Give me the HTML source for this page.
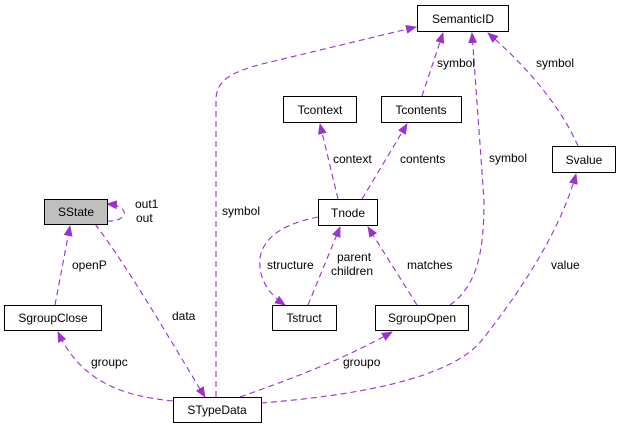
<!DOCTYPE html>
<html><head><meta charset="utf-8"><style>
html,body{margin:0;padding:0;background:#fff;}
svg{display:block;font-family:"Liberation Sans",sans-serif;font-size:12px;}
</style></head><body>
<svg width="621" height="427" viewBox="0 0 621 427" xmlns="http://www.w3.org/2000/svg">
<defs>
<marker id="a" markerWidth="11" markerHeight="9" refX="10" refY="4.5" orient="auto" markerUnits="userSpaceOnUse">
<path d="M0,0 L11,4.5 L0,9 z" fill="#9a32cd"/>
</marker>
</defs>
<g fill="none" stroke="#9a32cd" stroke-width="1.1" stroke-dasharray="6,4" marker-end="url(#a)">
<path d="M216,397 L216,100 C216,80 232,72 262,64 L416,27"/>
<path d="M422,96 L443,33"/>
<path d="M450,305 C478,285 484,250 484,200 L472,33"/>
<path d="M578,146 C560,105 525,65 488,33"/>
<path d="M338,199 L320,124"/>
<path d="M362,199 L407,124"/>
<path d="M318,217 C292,222 264,233 260,258 C258,280 270,295 285,305"/>
<path d="M308,305 L340,227"/>
<path d="M417,305 L368,227"/>
<path d="M261,403 C350,396 450,380 482,340 C520,292 560,232 576,174"/>
<path d="M240,397 C300,376 350,356 392,332"/>
<path d="M173,401 C120,396 80,380 58,332"/>
<path d="M95,224 C130,270 170,340 205,397"/>
<path d="M55,305 L70,226"/>
<path d="M107,221 C128,222 132,206 107,204"/>
</g>
<g stroke="#000" stroke-width="1" fill="#fff">
<rect x="417.5" y="5.5" width="91" height="26"/>
<rect x="283.5" y="96.5" width="73" height="26"/>
<rect x="381.5" y="96.5" width="80" height="26"/>
<rect x="552.5" y="146.5" width="63" height="26"/>
<rect x="44.5" y="199.5" width="63" height="25" fill="#bfbfbf"/>
<rect x="318.5" y="199.5" width="59" height="26"/>
<rect x="4.5" y="305.5" width="97" height="25"/>
<rect x="272.5" y="305.5" width="64" height="25"/>
<rect x="375.5" y="305.5" width="93" height="25"/>
<rect x="173.5" y="397.5" width="88" height="25"/>
</g>
<g fill="#000" text-anchor="middle">
<text x="463" y="23">SemanticID</text>
<text x="320" y="114">Tcontext</text>
<text x="421" y="114">Tcontents</text>
<text x="584" y="164">Svalue</text>
<text x="76" y="216">SState</text>
<text x="348" y="217">Tnode</text>
<text x="53" y="322">SgroupClose</text>
<text x="304" y="322">Tstruct</text>
<text x="422" y="322">SgroupOpen</text>
<text x="217" y="414">STypeData</text>
</g>
<g fill="#000">
<text x="437" y="67">symbol</text>
<text x="536" y="67">symbol</text>
<text x="489" y="162">symbol</text>
<text x="222" y="215">symbol</text>
<text x="333" y="163">context</text>
<text x="400" y="163">contents</text>
<text x="135" y="208">out1</text>
<text x="136" y="222">out</text>
<text x="72" y="269">openP</text>
<text x="267" y="269">structure</text>
<text x="337" y="261">parent</text>
<text x="331" y="275">children</text>
<text x="407" y="269">matches</text>
<text x="551" y="269">value</text>
<text x="172" y="320">data</text>
<text x="91" y="366">groupc</text>
<text x="343" y="366">groupo</text>
</g>
</svg>
</body></html>
